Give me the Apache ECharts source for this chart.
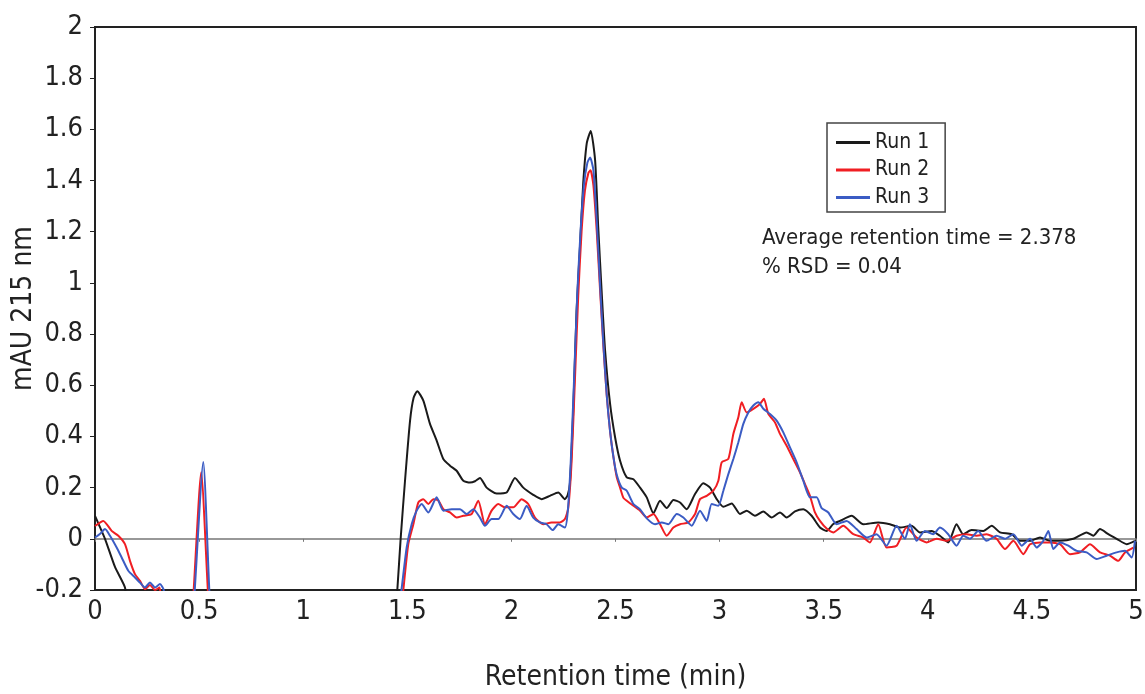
<!DOCTYPE html>
<html>
<head>
<meta charset="utf-8">
<title>Retention time</title>
<script src="https://cdn.jsdelivr.net/npm/echarts@6/dist/echarts.min.js"></script>
<style>
  html, body { margin: 0; padding: 0; background: #fff; }
  #chart { width: 1145px; height: 694px; }
</style>
</head>
<body>
<div id="chart"></div>
<script>
// [time (min), mAU]; values below -0.2 are clipped by the axis
const run1 = [
  [0, 0.09], [0.048, 0.0], [0.096, -0.11], [0.144, -0.19], [0.17, -0.3], [1.44, -0.3], [1.452, -0.2],
  [1.468, 0], [1.489, 0.227], [1.513, 0.46], [1.53, 0.55], [1.548, 0.577], [1.577, 0.54], [1.609, 0.449],
  [1.641, 0.384], [1.673, 0.312], [1.705, 0.286], [1.737, 0.266], [1.769, 0.227], [1.801, 0.22],
  [1.825, 0.225], [1.849, 0.238], [1.881, 0.2], [1.929, 0.177], [1.977, 0.181], [2.017, 0.238],
  [2.057, 0.2], [2.105, 0.172], [2.145, 0.155], [2.185, 0.168], [2.225, 0.181], [2.257, 0.155],
  [2.27, 0.17], [2.281, 0.215], [2.297, 0.5], [2.313, 0.89], [2.33, 1.15], [2.345, 1.39], [2.362, 1.546],
  [2.381, 1.594], [2.402, 1.48], [2.417, 1.218], [2.434, 0.958], [2.45, 0.736], [2.474, 0.527],
  [2.498, 0.397], [2.522, 0.305], [2.554, 0.24], [2.586, 0.233], [2.618, 0.2], [2.65, 0.162],
  [2.682, 0.1], [2.714, 0.149], [2.746, 0.12], [2.778, 0.152], [2.81, 0.142], [2.842, 0.116],
  [2.882, 0.175], [2.922, 0.217], [2.954, 0.2], [2.986, 0.155], [3.018, 0.125], [3.058, 0.138],
  [3.098, 0.097], [3.13, 0.11], [3.17, 0.09], [3.21, 0.107], [3.25, 0.083], [3.29, 0.103],
  [3.322, 0.083], [3.362, 0.107], [3.402, 0.116], [3.442, 0.09], [3.482, 0.044], [3.514, 0.031],
  [3.546, 0.058], [3.578, 0.07], [3.634, 0.09], [3.69, 0.057], [3.762, 0.064], [3.818, 0.057],
  [3.866, 0.044], [3.922, 0.051], [3.962, 0.025], [4.018, 0.031], [4.058, 0.012], [4.098, -0.014],
  [4.138, 0.057], [4.17, 0.018], [4.21, 0.034], [4.267, 0.031], [4.307, 0.051], [4.347, 0.025],
  [4.403, 0.018], [4.443, -0.008], [4.491, -0.008], [4.539, 0.005], [4.587, -0.008], [4.635, -0.008],
  [4.699, 0], [4.763, 0.025], [4.795, 0.012], [4.827, 0.038], [4.867, 0.018], [4.907, 0],
  [4.955, -0.021], [4.995, -0.008]
]

const run2 = [
  [0, 0.05], [0.04, 0.07], [0.08, 0.031], [0.112, 0.012], [0.144, -0.021], [0.168, -0.086],
  [0.192, -0.138], [0.216, -0.164], [0.24, -0.197], [0.264, -0.18], [0.288, -0.2], [0.31, -0.19],
  [0.33, -0.3], [0.465, -0.3], [0.474, -0.2], [0.51, 0.26], [0.542, -0.2], [0.55, -0.3],
  [1.47, -0.3], [1.481, -0.2], [1.505, -0.02],
  [1.529, 0.057], [1.553, 0.142], [1.577, 0.155], [1.601, 0.136], [1.625, 0.155], [1.649, 0.15],
  [1.673, 0.116], [1.705, 0.103], [1.737, 0.083], [1.769, 0.09], [1.809, 0.097], [1.841, 0.149],
  [1.873, 0.057], [1.905, 0.11], [1.937, 0.136], [1.969, 0.123], [2.009, 0.123], [2.049, 0.155],
  [2.081, 0.136], [2.113, 0.083], [2.153, 0.057], [2.193, 0.064], [2.233, 0.064], [2.257, 0.077],
  [2.273, 0.12], [2.289, 0.3], [2.305, 0.62], [2.321, 0.95], [2.337, 1.2], [2.353, 1.36], [2.37, 1.43],
  [2.38, 1.44], [2.394, 1.38], [2.41, 1.2], [2.426, 0.97], [2.442, 0.75], [2.458, 0.56], [2.474, 0.42],
  [2.49, 0.32], [2.506, 0.24], [2.522, 0.2], [2.538, 0.16], [2.554, 0.149], [2.586, 0.129],
  [2.618, 0.11], [2.65, 0.083], [2.682, 0.097], [2.714, 0.057], [2.746, 0.012], [2.778, 0.044],
  [2.81, 0.057], [2.85, 0.064], [2.882, 0.097], [2.906, 0.155], [2.938, 0.168], [2.97, 0.188],
  [2.994, 0.227], [3.01, 0.299], [3.042, 0.312], [3.066, 0.41], [3.09, 0.475], [3.106, 0.534],
  [3.13, 0.494], [3.162, 0.508], [3.194, 0.527], [3.213, 0.547], [3.234, 0.488], [3.266, 0.455],
  [3.29, 0.41], [3.322, 0.364], [3.354, 0.312], [3.386, 0.26], [3.41, 0.214], [3.434, 0.168],
  [3.458, 0.103], [3.482, 0.07], [3.514, 0.04], [3.546, 0.025], [3.594, 0.051], [3.642, 0.018],
  [3.69, 0.005], [3.722, -0.014], [3.762, 0.057], [3.802, -0.034], [3.85, -0.027], [3.898, 0.044],
  [3.946, 0.005], [3.994, -0.014], [4.042, 0], [4.09, -0.008], [4.138, 0.012], [4.186, 0.018],
  [4.234, 0.012], [4.282, 0.018], [4.33, 0], [4.371, -0.04], [4.411, -0.008], [4.459, -0.06],
  [4.491, -0.021], [4.539, -0.014], [4.587, -0.014], [4.635, -0.021], [4.683, -0.06], [4.731, -0.053],
  [4.779, -0.021], [4.827, -0.053], [4.875, -0.066], [4.915, -0.086], [4.947, -0.053], [4.987, -0.034]
]

const run3 = [
  [0, 0.005], [0.025, 0.02], [0.048, 0.038], [0.072, 0.012], [0.104, -0.034], [0.128, -0.073],
  [0.16, -0.125], [0.192, -0.151], [0.216, -0.171], [0.24, -0.19], [0.264, -0.171], [0.288, -0.19],
  [0.312, -0.177], [0.33, -0.2], [0.34, -0.3], [0.47, -0.3], [0.479, -0.2], [0.52, 0.3], [0.549, -0.2],
  [0.558, -0.3],
  [1.455, -0.3], [1.472, -0.2], [1.497, -0.034], [1.521, 0.057], [1.545, 0.11], [1.569, 0.136],
  [1.601, 0.103], [1.641, 0.162], [1.673, 0.11], [1.713, 0.116], [1.753, 0.116], [1.785, 0.097],
  [1.817, 0.116], [1.849, 0.083], [1.873, 0.051], [1.905, 0.077], [1.937, 0.077], [1.977, 0.129],
  [2.009, 0.097], [2.041, 0.077], [2.073, 0.129], [2.105, 0.083], [2.137, 0.064], [2.169, 0.057],
  [2.198, 0.034], [2.225, 0.057], [2.257, 0.044], [2.27, 0.1], [2.285, 0.3], [2.3, 0.6], [2.316, 0.95],
  [2.332, 1.2], [2.348, 1.38], [2.365, 1.47], [2.378, 1.49], [2.394, 1.44], [2.41, 1.24], [2.426, 0.99],
  [2.442, 0.76], [2.458, 0.56], [2.474, 0.42], [2.49, 0.32], [2.506, 0.25], [2.53, 0.2], [2.554, 0.188],
  [2.586, 0.136], [2.618, 0.115], [2.65, 0.08], [2.69, 0.057], [2.722, 0.064], [2.754, 0.057],
  [2.794, 0.097], [2.826, 0.083], [2.866, 0.051], [2.906, 0.11], [2.938, 0.07], [2.962, 0.136],
  [2.994, 0.129], [3.018, 0.188], [3.042, 0.253], [3.066, 0.312], [3.09, 0.377], [3.114, 0.449],
  [3.138, 0.494], [3.162, 0.521], [3.186, 0.534], [3.21, 0.508], [3.242, 0.488], [3.274, 0.462],
  [3.306, 0.416], [3.338, 0.357], [3.37, 0.299], [3.402, 0.227], [3.434, 0.162], [3.466, 0.162],
  [3.49, 0.12], [3.522, 0.103], [3.562, 0.057], [3.61, 0.07], [3.658, 0.038], [3.706, 0.005],
  [3.754, 0.018], [3.802, -0.027], [3.85, 0.051], [3.89, 0], [3.914, 0.057], [3.946, -0.008],
  [3.986, 0.031], [4.026, 0.018], [4.058, 0.044], [4.098, 0.018], [4.138, -0.027], [4.17, 0.012],
  [4.202, 0], [4.242, 0.031], [4.282, -0.008], [4.33, 0.012], [4.371, 0], [4.411, 0.018],
  [4.451, -0.027], [4.491, 0], [4.523, -0.034], [4.555, -0.008], [4.579, 0.031], [4.603, -0.04],
  [4.635, -0.014], [4.675, -0.027], [4.715, -0.047], [4.763, -0.053], [4.811, -0.079], [4.859, -0.066],
  [4.907, -0.053], [4.947, -0.047], [4.979, -0.073], [4.995, -0.008]
]

const runNames = ['Run 1', 'Run 2', 'Run 3']
const runColors = ['#1a1a1a', '#f01e23', '#3b5cc4']
const noteLines = ['Average retention time = 2.378', '% RSD = 0.04']

const FONT = '"Liberation Sans Narrow", "DejaVu Sans Condensed", "Liberation Sans", sans-serif'

const chart = echarts.init(document.getElementById('chart'))

const series = [run1, run2, run3].map((data, i) => ({
  name: runNames[i],
  type: 'line',
  data: data,
  showSymbol: false,
  symbol: 'none',
  smooth: 0.2,
  clip: true,
  lineStyle: { color: runColors[i], width: 2 },
  itemStyle: { color: runColors[i] },
}))

chart.setOption({
  animation: false,
  grid: {
    left: 95, right: 9, top: 27, bottom: 104,
    outerBoundsMode: 'none',
    containLabel: false,
    show: true, borderColor: '#222', borderWidth: 2, backgroundColor: 'transparent',
  },
  legend: {
    data: runNames,
    orient: 'vertical',
    left: 827, top: 123,
    padding: [9, 16, 4, 9],
    itemGap: 6.5,
    itemWidth: 34, itemHeight: 3,
    icon: 'rect',
    borderColor: '#444', borderWidth: 1.5,
    backgroundColor: '#fff',
    textStyle: { fontFamily: FONT, fontSize: 21, color: '#222' },
  },
  xAxis: [
    {
      type: 'value', min: 0, max: 5, interval: 0.5,
      position: 'bottom',
      name: 'Retention time (min)',
      nameLocation: 'middle', nameGap: 74,
      nameMoveOverlap: false,
      nameTextStyle: { fontFamily: FONT, fontSize: 28, color: '#222' },
      axisLine: { onZero: false, lineStyle: { color: '#222', width: 2 } },
      axisTick: { show: false },
      axisLabel: { fontFamily: FONT, fontSize: 27, color: '#222', margin: 8 },
      splitLine: { show: false },
    },
    {
      // zero line with its small ticks
      type: 'value', min: 0, max: 5, interval: 0.5,
      position: 'bottom',
      axisLine: { onZero: true, lineStyle: { color: '#777', width: 1.5 } },
      axisTick: { show: true, length: 3, lineStyle: { color: '#777' } },
      axisLabel: { show: false },
      splitLine: { show: false },
    },
  ],
  yAxis: {
    type: 'value', min: -0.2, max: 2, interval: 0.2,
    name: 'mAU 215 nm',
    nameLocation: 'middle', nameGap: 57,
    nameMoveOverlap: false,
    nameTextStyle: { fontFamily: FONT, fontSize: 28, color: '#222' },
    axisLine: { show: true, lineStyle: { color: '#222', width: 2 } },
    axisTick: { show: true, length: 5, lineStyle: { color: '#222' } },
    axisLabel: { fontFamily: FONT, fontSize: 27, color: '#222', margin: 12 },
    splitLine: { show: false },
  },
  graphic: [
    {
      type: 'text', left: 762, top: 224,
      style: {
        text: noteLines.join('\n'),
        font: '22px ' + FONT,
        fill: '#222',
        lineHeight: 29,
      },
    },
  ],
  series: series,
})
</script>
</body>
</html>
